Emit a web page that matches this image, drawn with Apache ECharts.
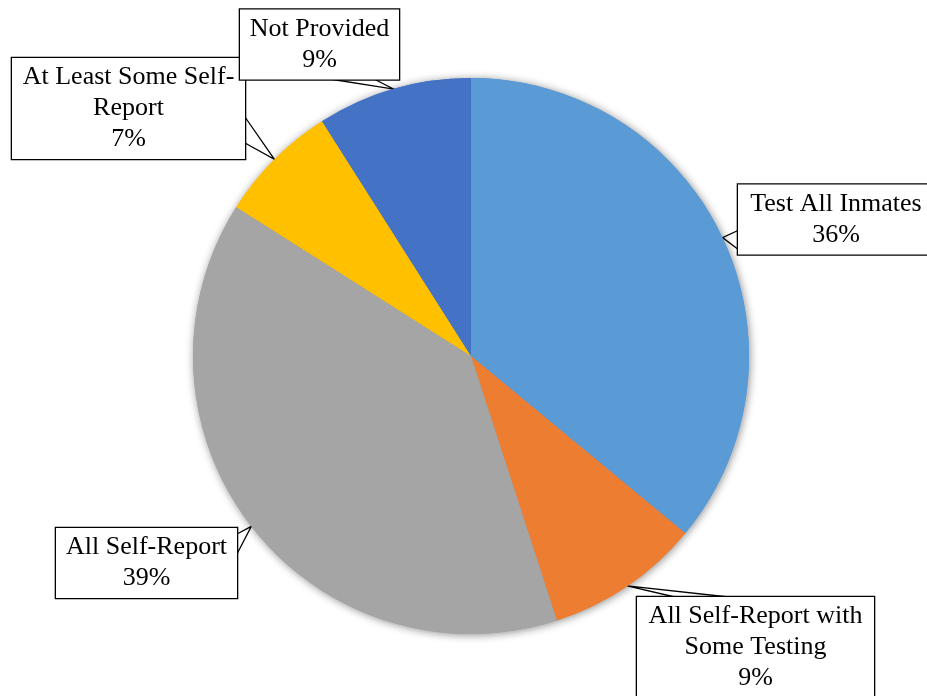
<!DOCTYPE html>
<html>
<head>
<meta charset="utf-8">
<script src="https://cdn.jsdelivr.net/npm/echarts@6/dist/echarts.min.js"></script>
<style>html,body{margin:0;padding:0;background:#fff}#c{width:927px;height:696px}</style>
</head>
<body>
<div id="c"></div>
<script>
// ---- data ----
const categories = ['Test All Inmates', 'All Self-Report with\nSome Testing', 'All Self-Report', 'At Least Some Self-\nReport', 'Not Provided'];
const values = [36, 9, 39, 7, 9];
const colors = ['#5B9BD5', '#ED7D31', '#A5A5A5', '#FFC000', '#4472C4'];

// ---- callout layout (label box centre, content width, wedge base points) ----
const calloutLayout = [
  { cx: 836, cy: 219.5, w: 180, base: [[739, 230], [739, 250]] },
  { cx: 755.5, cy: 647.5, w: 221, base: [[677, 597.5], [733, 597.5]] },
  { cx: 146.5, cy: 563, w: 165, base: [[237, 534], [237, 554]] },
  { cx: 128.5, cy: 108.5, w: 217, base: [[245, 117], [245, 143]] },
  { cx: 319.5, cy: 44.5, w: 143, base: [[333, 79.5], [375, 79.5]] }
];
const CENTER = [471, 356];
const RADIUS = 278;

const chart = echarts.init(document.getElementById('c'), null, { renderer: 'canvas' });

const data = categories.map((name, i) => ({
  name: name,
  value: values[i],
  itemStyle: { color: colors[i] },
  label: { width: calloutLayout[i].w, padding: [4, 8, 4, 8] }
}));

function tipFor(idx) {
  const total = values.reduce((a, b) => a + b, 0);
  let acc = 0;
  for (let i = 0; i < idx; i++) acc += values[i];
  const mid = 90 - (acc + values[idx] / 2) / total * 360;
  const rad = mid * Math.PI / 180;
  return [CENTER[0] + RADIUS * Math.cos(rad), CENTER[1] - RADIUS * Math.sin(rad)];
}

chart.setOption({
  animation: false,
  series: [
    {
      // shadow layer beneath the pie
      type: 'pie',
      silent: true,
      center: CENTER,
      radius: RADIUS,
      startAngle: 90,
      clockwise: true,
      label: { show: false },
      labelLine: { show: false },
      itemStyle: { shadowBlur: 9, shadowColor: 'rgba(0,0,0,0.45)', shadowOffsetX: 1, shadowOffsetY: 1, borderWidth: 0 },
      data: categories.map((name, i) => ({ name: name, value: values[i], itemStyle: { color: colors[i] } })),
      z: 1
    },
    {
      type: 'pie',
      center: CENTER,
      radius: RADIUS,
      startAngle: 90,
      clockwise: true,
      avoidLabelOverlap: false,
      itemStyle: { borderWidth: 0 },
      label: {
        show: true,
        position: 'outside',
        formatter: '{b}\n{c}%',
        fontFamily: '"Liberation Serif", "Times New Roman", serif',
        fontSize: 26,
        lineHeight: 31,
        color: '#000',
        align: 'center',
        backgroundColor: '#fff',
        borderColor: '#000',
        borderWidth: 1.3
      },
      labelLine: {
        show: true,
        length: 15,
        length2: 10,
        smooth: false,
        lineStyle: { color: '#000', width: 1.3 }
      },
      labelLayout: function (params) {
        const i = params.dataIndex;
        const L = calloutLayout[i];
        let tip = tipFor(i);
        if (params.labelLinePoints && params.labelLinePoints[0]) {
          tip = params.labelLinePoints[0];
        }
        return {
          x: L.cx,
          y: L.cy,
          align: 'center',
          verticalAlign: 'middle',
          labelLinePoints: [L.base[0], tip, L.base[1]]
        };
      },
      data: data,
      z: 2
    }
  ]
});
</script>
</body>
</html>
